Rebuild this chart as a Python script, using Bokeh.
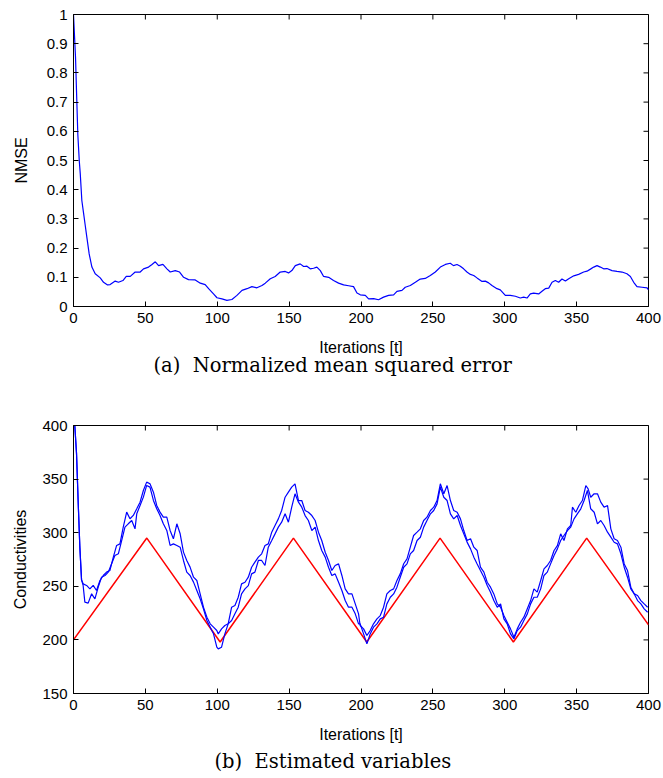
import math
from bokeh.plotting import figure
from bokeh.models import Title, Range1d, FixedTicker
from bokeh.layouts import column
from bokeh.embed import file_html
from bokeh.resources import INLINE

# ---------------- data ----------------
x_ticks = [0, 50, 100, 150, 200, 250, 300, 350, 400]
nmse_ticks = [0, 0.1, 0.2, 0.3, 0.4, 0.5, 0.6, 0.7, 0.8, 0.9, 1.0]
cond_ticks = [150, 200, 250, 300, 350, 400]

nmse_t = [0, 1.4, 2.3, 3.0, 4.0, 4.7, 5.8, 7.0, 8.1, 9.3, 10.9, 12.8, 15.1, 18.6, 20.9, 23.7, 25.5,
          29.0, 31.3, 34.4, 36.7, 39.5, 42.9, 46.4, 48.7, 52.2, 54.6, 56.9, 59.2, 62.2, 65.0, 67.3,
          70.8, 73.8, 76.6, 80.0, 84.7, 88.2, 91.6, 94.0, 97.4, 99.8, 103.3, 106.7, 110.2, 113.7,
          117.2, 120.7, 124.1, 127.6, 131.1, 133.4, 136.9, 140.3, 143.8, 147.3, 149.6, 151.9, 154.3,
          157.7, 160.1, 162.4, 164.7, 167.0, 169.3, 171.7, 174.0, 177.5, 180.9, 184.4, 187.9, 191.4,
          194.8, 197.2, 199.5, 203.0, 205.3, 208.8, 212.2, 215.7, 219.2, 222.7, 225.0, 228.5, 230.8,
          234.3, 237.8, 241.2, 244.7, 248.2, 251.7, 255.2, 258.7, 262.1, 264.3, 266.8, 269.1, 271.4,
          273.7, 276.1, 278.4, 280.7, 284.2, 286.5, 288.8, 291.1, 294.6, 296.9, 300.4, 303.9, 307.4,
          310.8, 313.2, 315.5, 317.8, 320.1, 323.6, 325.9, 328.2, 330.6, 332.9, 335.2, 337.5, 339.8,
          342.2, 344.5, 348.0, 351.4, 354.9, 357.2, 359.6, 361.9, 364.2, 366.5, 368.8, 371.1, 374.6,
          378.1, 381.6, 385.0, 387.4, 389.7, 392.0, 395.5, 399.0, 400.0]
nmse_v = [1.0, 0.854, 0.705, 0.59, 0.50, 0.455, 0.363, 0.32, 0.28, 0.237, 0.18, 0.135, 0.112, 0.098,
          0.083, 0.074, 0.075, 0.087, 0.083, 0.089, 0.103, 0.103, 0.118, 0.118, 0.129, 0.135, 0.144,
          0.153, 0.140, 0.144, 0.129, 0.118, 0.123, 0.118, 0.100, 0.092, 0.091, 0.080, 0.075, 0.061,
          0.043, 0.030, 0.026, 0.021, 0.024, 0.038, 0.055, 0.061, 0.068, 0.064, 0.072, 0.080, 0.095,
          0.103, 0.118, 0.120, 0.115, 0.123, 0.140, 0.146, 0.137, 0.138, 0.129, 0.131, 0.135, 0.123,
          0.103, 0.100, 0.089, 0.080, 0.074, 0.071, 0.068, 0.046, 0.040, 0.038, 0.026, 0.027, 0.023,
          0.032, 0.038, 0.040, 0.052, 0.055, 0.066, 0.072, 0.083, 0.094, 0.096, 0.106, 0.118, 0.135,
          0.144, 0.148, 0.140, 0.144, 0.138, 0.129, 0.118, 0.110, 0.106, 0.098, 0.086, 0.087, 0.081,
          0.072, 0.061, 0.057, 0.038, 0.038, 0.035, 0.029, 0.032, 0.029, 0.043, 0.046, 0.043, 0.052,
          0.061, 0.063, 0.083, 0.089, 0.083, 0.094, 0.087, 0.095, 0.105, 0.110, 0.118, 0.121, 0.128,
          0.135, 0.140, 0.135, 0.129, 0.130, 0.123, 0.120, 0.118, 0.112, 0.103, 0.083, 0.068, 0.066,
          0.064, 0.057]

truth_t = [0, 51, 102, 153, 204, 255, 306, 357, 400]
truth_v = [200, 295, 198, 295, 198, 295, 198, 295, 214]

est1_t = [0, 0.9, 2.1, 3.3, 4.4, 5.6, 6.7, 9.1, 11.4, 13.7, 16.0, 18.4, 20.7, 23.0, 25.3, 27.7,
          30.0, 32.3, 34.6, 37.0, 39.3, 41.6, 44.0, 46.3, 48.6, 50.9, 53.2, 55.6, 57.9, 60.2, 62.5,
          64.9, 67.2, 69.5, 71.9, 74.2, 76.5, 78.8, 81.1, 83.5, 85.8, 88.1, 90.4, 92.8, 95.1, 97.4,
          99.7,
          100.7, 103.0, 105.3, 107.6, 110.0, 112.3, 114.6, 116.9, 119.3, 121.6, 123.9, 126.2, 128.6,
          130.9, 133.2, 135.5, 137.9, 140.2, 142.5, 144.8, 147.2, 149.5, 151.8, 154.1, 156.5, 158.8,
          161.1, 163.4, 165.8, 168.1, 170.4, 172.7, 175.1, 177.4, 179.7, 182.0, 184.4, 186.7, 189.0,
          191.3, 193.7, 196.0, 198.3,
          199.4, 201.8, 204.1, 206.4, 208.7, 211.1, 213.4, 215.7, 218.0, 220.4, 222.7, 225.0, 227.3,
          229.7, 232.0, 234.3, 236.6, 239.0, 241.3, 243.6, 245.9, 248.3, 250.6, 252.9, 255.2, 257.6,
          259.9, 262.2, 264.5, 266.9, 269.2, 271.5, 273.8, 276.2, 278.5, 280.8, 283.1, 285.5, 287.8,
          290.1, 292.4, 294.8, 297.1,
          299.4, 301.7, 304.0, 306.4, 308.7, 311.0, 313.3, 315.7, 318.0, 320.3, 322.6, 325.0, 327.3,
          329.6, 331.9, 334.3, 336.6, 338.9, 341.2, 343.6, 345.9, 347.1, 349.4, 351.7, 354.0, 356.4,
          358.0, 359.8, 362.2, 364.5, 366.8, 369.1, 371.5, 373.8, 376.1, 378.4, 380.8, 383.1, 385.4,
          387.7, 390.1, 392.4, 394.7, 397.0, 399.4]
est1_v = [404, 400, 374, 327, 287, 256, 252.3, 250.8, 247.6, 250.8, 246.1, 255.4, 260.1, 263.2,
          264.7, 277.2, 288.1, 289.6, 305.2, 319.2, 313.0, 316.1, 322.3, 328.5, 339.4, 347.2, 345.6,
          337.8, 325.4, 319.2, 314.5, 314.5, 302.1, 294.3, 308.3, 299.0, 281.9, 274.1, 267.9, 258.5,
          255.4, 243.0, 230.5, 221.2, 215.0, 211.9, 208.8,
          205.6, 210.3, 213.4, 215.0, 230.5, 232.1, 239.8, 252.3, 253.8, 258.5, 267.8, 272.5, 277.2,
          280.3, 288.0, 289.6, 300.5, 306.7, 312.9, 320.7, 333.1, 337.8, 342.5, 345.6, 330.0, 330.0,
          320.7, 319.1, 316.0, 311.4, 300.5, 292.7, 281.8, 274.1, 264.7, 269.4, 270.9, 260.1, 247.6,
          242.9, 242.9, 233.6, 224.3,
          213.4, 210.3, 204.1, 208.7, 215.0, 219.6, 222.7, 230.5, 242.9, 246.1, 247.6, 255.4, 261.6,
          271.0, 275.6, 286.5, 297.4, 300.5, 303.6, 311.4, 314.5, 320.7, 323.8, 330.0, 345.6, 336.3,
          344.0, 330.0, 320.7, 319.1, 312.9, 302.0, 292.7, 294.3, 286.5, 283.4, 267.8, 263.2, 253.8,
          249.2, 242.9, 233.6, 230.5,
          222.7, 216.5, 210.3, 202.5, 210.3, 216.5, 221.2, 229.0, 236.7, 247.6, 244.5, 255.4, 266.3,
          269.4, 274.1, 283.4, 288.0, 298.9, 292.7, 303.6, 306.7, 323.8, 319.1, 325.4, 330.0, 344.0,
          340.9, 333.1, 336.3, 336.3, 328.5, 323.8, 325.4, 303.6, 294.3, 292.7, 286.5, 270.9, 264.7,
          249.2, 242.9, 241.4, 236.7, 233.6, 230.5]

est2_t = [0, 0.9, 2.1, 3.3, 4.4, 5.6, 6.7, 7.9, 10.2, 12.6, 14.9, 17.2, 19.5, 21.9, 24.2, 26.5,
          28.8, 31.2, 33.5, 35.8, 38.1, 40.5, 42.8, 44.0, 46.3, 48.6, 50.9, 53.2, 55.6, 57.9, 60.2,
          62.5, 64.9, 67.2, 69.5, 71.9, 74.2, 76.5, 78.8, 81.1, 83.5, 85.8, 88.1, 90.4, 92.8, 95.1,
          97.4, 99.7,
          100.7, 103.0, 105.3, 107.6, 110.0, 112.3, 114.6, 116.9, 119.3, 121.6, 123.9, 126.2, 128.6,
          130.9, 133.2, 135.5, 137.9, 140.2, 142.5, 144.8, 147.2, 149.5, 151.8, 154.1, 156.5, 158.8,
          161.1, 163.4, 165.8, 168.1, 170.4, 172.7, 175.1, 177.4, 179.7, 182.0, 184.4, 186.7, 189.0,
          191.3, 193.7, 196.0, 198.3,
          199.4, 201.8, 204.1, 206.4, 208.7, 211.1, 213.4, 215.7, 218.0, 220.4, 222.7, 225.0, 227.3,
          229.7, 232.0, 234.3, 236.6, 239.0, 241.3, 243.6, 245.9, 248.3, 250.6, 252.9, 255.2, 257.6,
          259.9, 262.2, 264.5, 266.9, 269.2, 271.5, 273.8, 276.2, 278.5, 280.8, 283.1, 285.5, 287.8,
          290.1, 292.4, 294.8, 297.1,
          299.4, 301.7, 304.0, 306.4, 308.7, 311.0, 313.3, 315.7, 318.0, 320.3, 322.6, 325.0, 327.3,
          329.6, 331.9, 334.3, 336.6, 338.9, 341.2, 343.6, 345.9, 348.2, 350.5, 352.9, 355.2, 357.5,
          359.8, 362.2, 364.5, 366.8, 369.1, 371.5, 373.8, 376.1, 378.4, 380.8, 383.1, 385.4, 387.7,
          390.1, 392.4, 394.7, 397.0, 399.4]
est2_v = [404, 400, 374, 327, 287, 256, 250.8, 235.2, 234.3, 243.0, 238.3, 249.2, 258.5, 260.1,
          263.2, 271.0, 278.7, 280.3, 292.7, 305.2, 308.3, 311.4, 303.6, 317.6, 325.4, 333.2, 344.1,
          342.5, 330.1, 322.3, 316.1, 308.3, 302.1, 288.1, 289.6, 288.1, 286.5, 274.1, 263.2, 260.1,
          253.9, 246.1, 238.3, 229.0, 218.1, 211.9, 205.7, 193.2,
          191.6, 193.2, 205.6, 215.0, 218.1, 224.3, 230.5, 242.9, 247.6, 250.7, 261.6, 263.2, 274.1,
          274.1, 269.4, 286.5, 292.7, 298.9, 305.2, 309.8, 317.6, 309.8, 323.8, 336.3, 328.5, 323.8,
          316.0, 311.4, 302.0, 305.2, 292.7, 283.4, 277.2, 267.8, 260.1, 261.6, 253.8, 246.1, 236.7,
          230.5, 230.5, 224.3, 215.0,
          215.0, 205.6, 196.3, 205.6, 211.9, 215.0, 219.6, 221.2, 233.6, 239.8, 242.9, 249.2, 258.5,
          267.8, 270.9, 280.3, 283.4, 292.7, 295.8, 305.2, 311.4, 317.6, 320.7, 326.9, 342.5, 333.1,
          330.0, 317.6, 312.9, 316.0, 306.7, 298.9, 291.2, 284.9, 277.2, 270.9, 264.7, 258.5, 250.7,
          244.5, 236.7, 230.5, 233.6,
          219.6, 215.0, 205.6, 201.0, 208.7, 211.9, 218.1, 224.3, 233.6, 239.8, 239.8, 247.6, 260.1,
          263.2, 270.9, 278.7, 284.9, 292.7, 297.4, 302.0, 305.2, 312.9, 317.6, 322.3, 330.0, 339.4,
          322.3, 319.1, 308.3, 311.4, 306.7, 300.5, 295.8, 291.1, 289.6, 280.3, 267.8, 258.5, 247.6,
          242.9, 236.7, 233.6, 229.0, 225.8]

SANS = "Liberation Sans"
SERIF = "DejaVu Serif"


def style_axis(ax, ticks):
    ax.ticker = FixedTicker(ticks=ticks)
    ax.axis_line_color = "black"
    ax.axis_line_width = 1
    ax.major_tick_line_color = "black"
    ax.major_tick_in = 5
    ax.major_tick_out = 0
    ax.minor_tick_line_color = None
    ax.major_label_text_font = SANS
    ax.major_label_text_color = "black"
    ax.major_label_text_font_size = "15px"
    ax.major_label_standoff = 6
    ax.axis_label_text_font = SANS
    ax.axis_label_text_font_size = "16px"
    ax.axis_label_text_font_style = "normal"
    ax.axis_label_text_color = "black"


def make_fig(ymin, ymax, yticks, ylabel, frame_h, top, bottom, caption, cap_offset, cap_standoff,
             ylab_standoff):
    p = figure(frame_width=575, frame_height=frame_h, output_backend="svg", toolbar_location=None,
               x_range=Range1d(0, 400), y_range=Range1d(ymin, ymax),
               min_border_left=73, min_border_right=15, min_border_top=top,
               min_border_bottom=bottom)
    p.grid.visible = False
    p.outline_line_color = "black"
    p.outline_line_width = 1
    p.background_fill_color = "white"
    p.border_fill_color = "white"
    style_axis(p.xaxis[0], x_ticks)
    style_axis(p.yaxis[0], yticks)
    p.xaxis[0].axis_label = "Iterations [t]"
    p.xaxis[0].axis_label_standoff = 13
    p.yaxis[0].axis_label = ylabel
    p.yaxis[0].axis_label_standoff = ylab_standoff
    # inward ticks on the top and right edges of the box (clipped to the frame)
    p.scatter(x_ticks, [ymax] * len(x_ticks), marker="dash", size=10, angle=math.pi / 2,
              line_color="black", line_width=1)
    p.scatter([400] * len(yticks), yticks, marker="dash", size=10,
              line_color="black", line_width=1)
    p.add_layout(Title(text=caption, align="left", offset=cap_offset, standoff=cap_standoff,
                       text_font=SERIF, text_font_size="19.5px", text_font_style="normal",
                       text_color="black"), "below")
    return p


p1 = make_fig(0, 1, nmse_ticks, "NMSE", 292, 14, 89,
              "(a)\u00a0\u00a0Normalized mean squared error", 80, -14, 14)
p1.line(nmse_t, nmse_v, line_color="#0000ff", line_width=1.2)

p2 = make_fig(150, 400, cond_ticks, "Conductivities", 268, 30, 85,
              "(b)\u00a0\u00a0Estimated variables", 141, 4, 10)
p2.line(truth_t, truth_v, line_color="#ff0000", line_width=1.5)
p2.line(est1_t, est1_v, line_color="#0000ff", line_width=1.2)
p2.line(est2_t, est2_v, line_color="#0000ff", line_width=1.2)

layout = column(p1, p2, spacing=0)
open("out.html", "w").write(file_html(layout, INLINE))
